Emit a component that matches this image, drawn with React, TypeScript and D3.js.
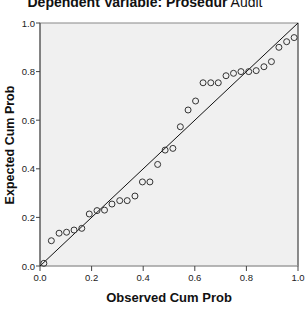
import React from "react";
import * as d3 from "d3";

const observed = [0.015, 0.044, 0.074, 0.103, 0.132, 0.162, 0.191, 0.221, 0.25, 0.279, 0.309, 0.338, 0.368, 0.397, 0.426, 0.456, 0.485, 0.515, 0.544, 0.574, 0.603, 0.632, 0.662, 0.691, 0.721, 0.75, 0.779, 0.809, 0.838, 0.868, 0.897, 0.926, 0.956, 0.985];
const expected = [0.011, 0.104, 0.135, 0.139, 0.148, 0.155, 0.214, 0.228, 0.23, 0.255, 0.269, 0.269, 0.288, 0.346, 0.346, 0.418, 0.477, 0.484, 0.573, 0.642, 0.679, 0.754, 0.754, 0.754, 0.783, 0.793, 0.8, 0.8, 0.804, 0.82, 0.841, 0.9, 0.923, 0.94];
const ticks = [0, 0.2, 0.4, 0.6, 0.8, 1.0];
const titleBold = "Dependent Variable: Prosedur";
const titleRest = " Audit";
const xTitle = "Observed Cum Prob";
const yTitle = "Expected Cum Prob";

export default function App() {
  const W = 305, H = 332;
  const left = 40, right = 298, top = 23, bottom = 266;
  const x = d3.scaleLinear().domain([0, 1]).range([left, right]);
  const y = d3.scaleLinear().domain([0, 1]).range([bottom, top]);
  const font = "'Liberation Sans', Arial, sans-serif";
  const line = d3.line<number>().x((d) => x(d)).y((d) => y(d));
  return (
    <svg width={W} height={H} style={{ position: "fixed", left: 0, top: 0, background: "#fff" }}>
      <text x={145} y={7} textAnchor="middle" fontFamily={font} fontSize={14} fill="#111">
        <tspan fontWeight="bold">{titleBold}</tspan>
        <tspan>{titleRest}</tspan>
      </text>
      <rect x={left} y={top} width={right - left} height={bottom - top} fill="#f0f0f0" stroke="#888" strokeWidth={1} />
      <line x1={left} x2={left} y1={top} y2={bottom} stroke="#444" />
      <line x1={right} x2={right} y1={top} y2={bottom} stroke="#555" />
      <line x1={left} x2={right} y1={bottom} y2={bottom} stroke="#aaa" />
      {ticks.map((t) => (
        <g key={"y" + t}>
          <line x1={left - 4} x2={left} y1={y(t)} y2={y(t)} stroke="#444" />
          <text x={left - 5} y={y(t) + 3.5} textAnchor="end" fontFamily={font} fontSize={9.5} fill="#222">{t.toFixed(1)}</text>
        </g>
      ))}
      {ticks.map((t) => (
        <g key={"x" + t}>
          <line x1={x(t)} x2={x(t)} y1={bottom} y2={bottom + 5} stroke="#444" />
          <text x={x(t)} y={bottom + 15} textAnchor="middle" fontFamily={font} fontSize={9.5} fill="#222">{t.toFixed(1)}</text>
        </g>
      ))}
      <path d={line([0, 1]) || ""} stroke="#111" strokeWidth={1} fill="none" />
      {observed.map((o, i) => (
        <circle key={i} cx={x(o)} cy={y(expected[i])} r={3} fill="none" stroke="#333" strokeWidth={1} />
      ))}
      <text x={169} y={302} textAnchor="middle" fontFamily={font} fontWeight="bold" fontSize={13} fill="#111">{xTitle}</text>
      <text transform={`translate(14,145) rotate(-90)`} textAnchor="middle" fontFamily={font} fontWeight="bold" fontSize={12.5} fill="#111">{yTitle}</text>
    </svg>
  );
}
